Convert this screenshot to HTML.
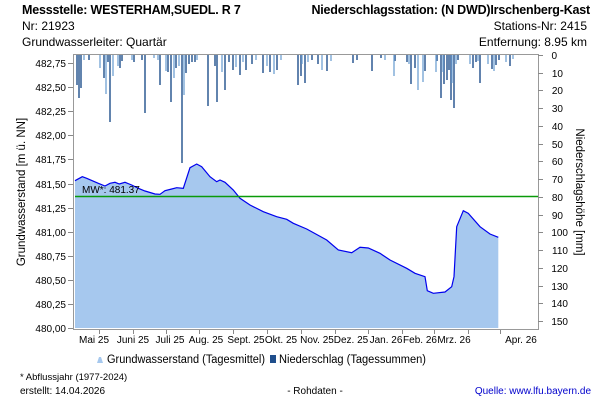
<!DOCTYPE html>
<html><head><meta charset="utf-8"><style>
body{margin:0;background:#fff;width:600px;height:400px;overflow:hidden}
svg{font-family:"Liberation Sans",sans-serif}
</style></head><body>
<svg width="600" height="400" viewBox="0 0 600 400" xmlns="http://www.w3.org/2000/svg">
<text x="22" y="14" font-size="12.5" font-weight="bold" fill="#000" letter-spacing="-0.2">Messstelle: WESTERHAM,SUEDL. R 7</text>
<text x="22" y="30" font-size="12">Nr: 21923</text>
<text x="22" y="46" font-size="12">Grundwasserleiter: Quartär</text>
<text x="590" y="14" font-size="12.5" font-weight="bold" text-anchor="end" letter-spacing="-0.2">Niederschlagsstation: (N DWD)Irschenberg-Kast</text>
<text x="587" y="30" font-size="12" text-anchor="end">Stations-Nr: 2415</text>
<text x="587" y="46" font-size="12" text-anchor="end">Entfernung: 8.95 km</text>

<polygon fill="#a6c8ee" points="75,328 75,180.7 82.3,176.7 86.7,178.3 98.3,183.3 105,186 110,183.3 115,182.3 119.3,184 125,182.3 131.7,185 138.3,188.3 145,191 155,194 160,194.3 165,190.7 171.7,189 176.7,187.7 183.3,188.3 190,167.7 196.7,164 201.7,166.7 210,176.7 216.7,181.7 220,180 225,182.3 233.3,190 240,198.3 250,205 263.3,211.7 276.7,216.7 286.7,219.3 293.3,223.3 306.7,229 326.7,240 338.3,250 351.7,252.7 360,247.3 368.3,248 380,253.3 390,260 406.7,268.3 415,273.3 425,276.7 427.3,290.7 433.3,293.3 445,292 451.7,286.7 454,276.7 456.7,226.7 463.3,210.7 468.3,213.3 480,226.7 490,234 498.3,237.3 498.3,328"/>
<polyline fill="none" stroke="#0000ee" stroke-width="1.2" points="75,180.7 82.3,176.7 86.7,178.3 98.3,183.3 105,186 110,183.3 115,182.3 119.3,184 125,182.3 131.7,185 138.3,188.3 145,191 155,194 160,194.3 165,190.7 171.7,189 176.7,187.7 183.3,188.3 190,167.7 196.7,164 201.7,166.7 210,176.7 216.7,181.7 220,180 225,182.3 233.3,190 240,198.3 250,205 263.3,211.7 276.7,216.7 286.7,219.3 293.3,223.3 306.7,229 326.7,240 338.3,250 351.7,252.7 360,247.3 368.3,248 380,253.3 390,260 406.7,268.3 415,273.3 425,276.7 427.3,290.7 433.3,293.3 445,292 451.7,286.7 454,276.7 456.7,226.7 463.3,210.7 468.3,213.3 480,226.7 490,234 498.3,237.3"/>
<line x1="75" y1="196.5" x2="538" y2="196.5" stroke="#0a9a0a" stroke-width="1.5"/>
<text x="82" y="193" font-size="10">MW*: 481.37</text>

<g stroke-width="1.4">
<g stroke="#1f4e8c">
<line x1="77" y1="55" x2="77" y2="85"/><line x1="79" y1="55" x2="79" y2="98"/><line x1="81" y1="55" x2="81" y2="88"/>
<line x1="89" y1="55" x2="89" y2="60"/><line x1="104" y1="55" x2="104" y2="78"/><line x1="108" y1="55" x2="108" y2="62"/>
<line x1="110" y1="55" x2="110" y2="122"/><line x1="120" y1="55" x2="120" y2="68"/><line x1="122" y1="55" x2="122" y2="61"/>
<line x1="134" y1="55" x2="134" y2="62"/><line x1="142" y1="55" x2="142" y2="60"/><line x1="145" y1="55" x2="145" y2="113"/>
<line x1="160" y1="55" x2="160" y2="85"/><line x1="168" y1="55" x2="168" y2="72"/><line x1="171" y1="55" x2="171" y2="102"/>
<line x1="176" y1="55" x2="176" y2="68"/><line x1="182" y1="55" x2="182" y2="163"/><line x1="186" y1="55" x2="186" y2="73"/>
<line x1="189" y1="55" x2="189" y2="64"/><line x1="192" y1="55" x2="192" y2="62"/><line x1="195" y1="55" x2="195" y2="62"/>
<line x1="208" y1="55" x2="208" y2="106"/><line x1="215" y1="55" x2="215" y2="66"/><line x1="217" y1="55" x2="217" y2="102"/>
<line x1="225" y1="55" x2="225" y2="90"/><line x1="229" y1="55" x2="229" y2="62"/><line x1="233" y1="55" x2="233" y2="70"/>
<line x1="240" y1="55" x2="240" y2="75"/><line x1="246" y1="55" x2="246" y2="70"/><line x1="252" y1="55" x2="252" y2="64"/>
<line x1="263" y1="55" x2="263" y2="73"/><line x1="270" y1="55" x2="270" y2="72"/><line x1="277" y1="55" x2="277" y2="70"/>
<line x1="298" y1="55" x2="298" y2="85"/><line x1="301" y1="55" x2="301" y2="76"/><line x1="305" y1="55" x2="305" y2="83"/>
<line x1="312" y1="55" x2="312" y2="60"/><line x1="318" y1="55" x2="318" y2="64"/><line x1="327" y1="55" x2="327" y2="71"/>
<line x1="353" y1="55" x2="353" y2="63"/><line x1="357" y1="55" x2="357" y2="60"/><line x1="372" y1="55" x2="372" y2="71"/>
<line x1="381" y1="55" x2="381" y2="58"/><line x1="395" y1="55" x2="395" y2="61"/><line x1="407" y1="55" x2="407" y2="62"/>
<line x1="411" y1="55" x2="411" y2="84"/><line x1="415" y1="55" x2="415" y2="68"/><line x1="425" y1="55" x2="425" y2="71"/>
<line x1="437" y1="55" x2="437" y2="61"/><line x1="441" y1="55" x2="441" y2="98"/><line x1="444" y1="55" x2="444" y2="84"/>
<line x1="447" y1="55" x2="447" y2="80"/><line x1="449" y1="55" x2="449" y2="70"/><line x1="451" y1="55" x2="451" y2="100"/>
<line x1="454" y1="55" x2="454" y2="108"/><line x1="458" y1="55" x2="458" y2="60"/><line x1="473" y1="55" x2="473" y2="68"/>
<line x1="476" y1="55" x2="476" y2="62"/><line x1="480" y1="55" x2="480" y2="83"/><line x1="492" y1="55" x2="492" y2="69"/>
<line x1="496" y1="55" x2="496" y2="65"/><line x1="499" y1="55" x2="499" y2="60"/><line x1="510" y1="55" x2="510" y2="66"/>
</g>
<g stroke="#7aa7d6">
<line x1="84" y1="55" x2="84" y2="60"/><line x1="100" y1="55" x2="100" y2="68"/><line x1="106" y1="55" x2="106" y2="94"/>
<line x1="113" y1="55" x2="113" y2="76"/><line x1="118" y1="55" x2="118" y2="66"/><line x1="132" y1="55" x2="132" y2="60"/>
<line x1="154" y1="55" x2="154" y2="58"/><line x1="158" y1="55" x2="158" y2="60"/><line x1="166" y1="55" x2="166" y2="71"/>
<line x1="174" y1="55" x2="174" y2="78"/><line x1="179" y1="55" x2="179" y2="66"/><line x1="184" y1="55" x2="184" y2="95"/>
<line x1="197" y1="55" x2="197" y2="60"/><line x1="222" y1="55" x2="222" y2="72"/><line x1="236" y1="55" x2="236" y2="67"/>
<line x1="243" y1="55" x2="243" y2="62"/><line x1="256" y1="55" x2="256" y2="60"/><line x1="267" y1="55" x2="267" y2="66"/>
<line x1="274" y1="55" x2="274" y2="74"/><line x1="281" y1="55" x2="281" y2="60"/><line x1="302" y1="55" x2="302" y2="64"/>
<line x1="308" y1="55" x2="308" y2="62"/><line x1="322" y1="55" x2="322" y2="70"/><line x1="331" y1="55" x2="331" y2="61"/>
<line x1="385" y1="55" x2="385" y2="60"/><line x1="394" y1="55" x2="394" y2="76"/><line x1="409" y1="55" x2="409" y2="64"/>
<line x1="418" y1="55" x2="418" y2="90"/><line x1="423" y1="55" x2="423" y2="82"/><line x1="436" y1="55" x2="436" y2="72"/>
<line x1="443" y1="55" x2="443" y2="72"/><line x1="452" y1="55" x2="452" y2="83"/><line x1="456" y1="55" x2="456" y2="64"/>
<line x1="470" y1="55" x2="470" y2="64"/><line x1="478" y1="55" x2="478" y2="61"/><line x1="488" y1="55" x2="488" y2="64"/>
<line x1="494" y1="55" x2="494" y2="71"/><line x1="506" y1="55" x2="506" y2="62"/><line x1="513" y1="55" x2="513" y2="59"/>
</g>
</g>

<g stroke="#999" stroke-width="1" fill="none">
<line x1="73.5" y1="55" x2="73.5" y2="330"/>
<line x1="538.5" y1="55" x2="538.5" y2="330"/>
<line x1="73" y1="54.5" x2="539" y2="54.5"/>
<line x1="73" y1="329.5" x2="539" y2="329.5"/>
</g>
<g stroke="#888" stroke-width="1">
<line x1="68" y1="63.5" x2="73" y2="63.5"/><line x1="68" y1="87.5" x2="73" y2="87.5"/><line x1="68" y1="111.5" x2="73" y2="111.5"/><line x1="68" y1="135.5" x2="73" y2="135.5"/><line x1="68" y1="159.5" x2="73" y2="159.5"/><line x1="68" y1="184.5" x2="73" y2="184.5"/><line x1="68" y1="208.5" x2="73" y2="208.5"/><line x1="68" y1="232.5" x2="73" y2="232.5"/><line x1="68" y1="256.5" x2="73" y2="256.5"/><line x1="68" y1="280.5" x2="73" y2="280.5"/><line x1="68" y1="304.5" x2="73" y2="304.5"/><line x1="68" y1="328.5" x2="73" y2="328.5"/>
<line x1="538" y1="55.5" x2="543" y2="55.5"/><line x1="538" y1="73.5" x2="543" y2="73.5"/><line x1="538" y1="90.5" x2="543" y2="90.5"/><line x1="538" y1="108.5" x2="543" y2="108.5"/><line x1="538" y1="126.5" x2="543" y2="126.5"/><line x1="538" y1="144.5" x2="543" y2="144.5"/><line x1="538" y1="161.5" x2="543" y2="161.5"/><line x1="538" y1="179.5" x2="543" y2="179.5"/><line x1="538" y1="197.5" x2="543" y2="197.5"/><line x1="538" y1="215.5" x2="543" y2="215.5"/><line x1="538" y1="232.5" x2="543" y2="232.5"/><line x1="538" y1="250.5" x2="543" y2="250.5"/><line x1="538" y1="268.5" x2="543" y2="268.5"/><line x1="538" y1="286.5" x2="543" y2="286.5"/><line x1="538" y1="303.5" x2="543" y2="303.5"/><line x1="538" y1="321.5" x2="543" y2="321.5"/>
<line x1="133.5" y1="330" x2="133.5" y2="334"/><line x1="166.5" y1="330" x2="166.5" y2="334"/><line x1="199.5" y1="330" x2="199.5" y2="334"/><line x1="233.5" y1="330" x2="233.5" y2="334"/><line x1="267.5" y1="330" x2="267.5" y2="334"/><line x1="301.5" y1="330" x2="301.5" y2="334"/><line x1="335.5" y1="330" x2="335.5" y2="334"/><line x1="368.5" y1="330" x2="368.5" y2="334"/><line x1="402.5" y1="330" x2="402.5" y2="334"/><line x1="434.5" y1="330" x2="434.5" y2="334"/><line x1="468.5" y1="330" x2="468.5" y2="334"/><line x1="500.5" y1="330" x2="500.5" y2="334"/><line x1="99.5" y1="330" x2="99.5" y2="334"/>
</g>
<g font-size="10" text-anchor="end">
<text x="66" y="67">482,75</text><text x="66" y="91">482,50</text><text x="66" y="115">482,25</text><text x="66" y="139">482,00</text><text x="66" y="163">481,75</text><text x="66" y="188">481,50</text><text x="66" y="212">481,25</text><text x="66" y="236">481,00</text><text x="66" y="260">480,75</text><text x="66" y="284">480,50</text><text x="66" y="308">480,25</text><text x="66" y="332">480,00</text>
</g>
<g font-size="10" text-anchor="end">
<text x="557" y="59">0</text><text x="563" y="77">10</text><text x="563" y="94">20</text><text x="563" y="112">30</text><text x="563" y="130">40</text><text x="563" y="148">50</text><text x="563" y="165">60</text><text x="563" y="183">70</text><text x="563" y="201">80</text><text x="563" y="219">90</text><text x="568" y="236">100</text><text x="568" y="254">110</text><text x="568" y="272">120</text><text x="568" y="290">130</text><text x="568" y="307">140</text><text x="568" y="325">150</text>
</g>
<g font-size="10" text-anchor="middle">
<text x="94" y="343">Mai 25</text><text x="133" y="343">Juni 25</text><text x="170" y="343">Juli 25</text><text x="206" y="343">Aug. 25</text><text x="246" y="343">Sept. 25</text><text x="281" y="343">Okt. 25</text><text x="317" y="343">Nov. 25</text><text x="351" y="343">Dez. 25</text><text x="386" y="343">Jan. 26</text><text x="420" y="343">Feb. 26</text><text x="454" y="343">Mrz. 26</text><text x="521" y="343">Apr. 26</text>
</g>
<text transform="translate(25,192) rotate(-90)" font-size="11.5" text-anchor="middle">Grundwasserstand [m ü. NN]</text>
<text transform="translate(576,192) rotate(90)" font-size="11.5" text-anchor="middle">Niederschlagshöhe [mm]</text>

<path d="M97,363 L99,357 L101,357 L103,363 Z" fill="#a6c8ee"/>
<text x="107" y="363" font-size="11.5" textLength="158" lengthAdjust="spacingAndGlyphs">Grundwasserstand (Tagesmittel)</text>
<rect x="270" y="355" width="6" height="8" fill="#1f4e8c"/>
<text x="279" y="363" font-size="11.5" textLength="147" lengthAdjust="spacingAndGlyphs">Niederschlag (Tagessummen)</text>
<text x="20" y="380" font-size="9.5">* Abflussjahr (1977-2024)</text>
<text x="20" y="394" font-size="10">erstellt:  14.04.2026</text>
<text x="315" y="394" font-size="10" text-anchor="middle">- Rohdaten -</text>
<text x="591" y="394" font-size="10" text-anchor="end" fill="#0000cc">Quelle: www.lfu.bayern.de</text>
</svg>
</body></html>
